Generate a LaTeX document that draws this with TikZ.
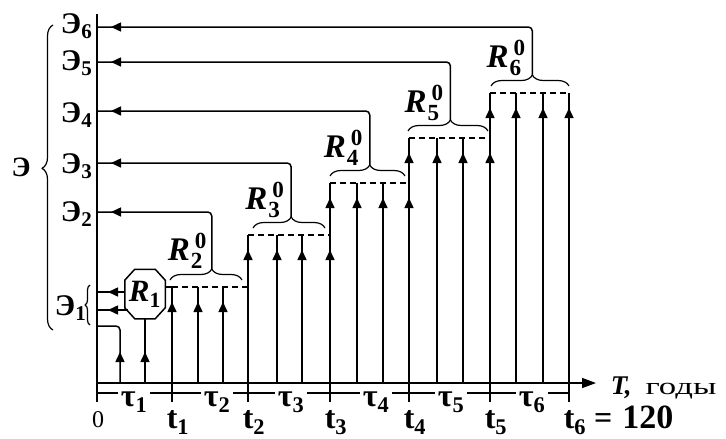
\documentclass[tikz,border=0pt]{standalone}
\usepackage{amsmath}
\usepackage{fontspec}
\setmainfont{Liberation Serif}
\newfontfamily\widefnt[FakeStretch=1.45]{Liberation Serif}
\usetikzlibrary{arrows.meta,calc,decorations.markings,decorations.pathreplacing}

\newcommand\Rlab[1]{$\text{\bfseries\itshape R}^{\kern5pt\text{\bfseries\upshape 0}}_{\kern1pt\text{\bfseries\upshape #1}}$}
\newcommand\Elab[1]{$\text{\bfseries Э}_{\text{\bfseries #1}}$}
\newcommand\tlab[1]{$\text{\bfseries t}_{\text{\bfseries #1}}$}
\newcommand\taulab[1]{$\text{\bfseries τ}_{\text{\bfseries #1}}$}

\tikzset{
  midarr/.style={postaction={decorate},
    decoration={markings, mark=at position #1 with {\arrow{Triangle[length=10pt,width=9pt]}}}},
  curly/.style={decorate, decoration={brace, amplitude=11pt, aspect=#1}},
  curly/.default=0.5,
  dashline/.style={dash pattern=on 6pt off 4pt},
  elab/.style={font=\fontsize{30}{30}\selectfont, inner sep=1pt, anchor=base east},
  rlab/.style={font=\fontsize{33}{33}\selectfont, inner sep=1pt, anchor=south east},
  tlabel/.style={font=\fontsize{32}{32}\selectfont, inner sep=0pt, anchor=base west},
  taulabel/.style={font=\fontsize{32}{32}\selectfont, inner sep=2pt, anchor=base},
}

\begin{document}
\begin{tikzpicture}[x=1pt, y=-1pt, line width=1.5pt, line join=round]
\useasboundingbox (0,0) rectangle (726,439);
% axes
\coordinate (O) at (97,383);
\coordinate (Otop) at (97,14);
\coordinate (Obot) at (97,402);
\coordinate (Tend) at (596,383);
\draw (Otop) -- (Obot);
\draw[-{Triangle[length=14pt,width=10pt]}] (O) -- (Tend);
\node[anchor=base west, inner sep=0pt] (Tlab) at (610,394)
  {\fontsize{27}{27}\selectfont\bfseries\itshape T,\kern14pt\upshape\mdseries\widefnt\fontsize{24}{24}\selectfont годы};

% levels of E
\foreach \k/\y in {2/212,3/163,4/111,5/62,6/27}
  \coordinate (E\k) at (97,\y);
\foreach \k/\y in {2/221,3/173,4/122,5/70,6/33}
  \node[elab] (Elab\k) at (94,\y) {\Elab{\k}};
\node[elab] (Elab1) at (88,315) {\Elab{1}};
\draw[curly=0.53, line width=1.2pt] (53,330) -- (53,25);
\node[font=\fontsize{28}{28}\selectfont\bfseries] (Ebig) at (21,167) {Э};
\draw[curly, decoration={amplitude=5pt}, line width=1.2pt] (90,325) -- (90,285);

% R1
\node[font=\fontsize{31}{31}\selectfont, minimum width=39pt, minimum height=48pt, inner sep=0pt] (R1) at (145,294)
  {$\text{\bfseries\itshape R}_{\text{\bfseries 1}}$};
\draw ($(R1.north west)+(10,0)$) -- ($(R1.north east)+(-10,0)$) -- ($(R1.north east)+(0,11)$)
  -- ($(R1.south east)+(0,-11)$) -- ($(R1.south east)+(-10,0)$) -- ($(R1.south west)+(10,0)$)
  -- ($(R1.south west)+(0,-11)$) -- ($(R1.north west)+(0,11)$) -- cycle;
\coordinate (e1a) at (97,292);
\coordinate (e1b) at (97,310);
\draw[midarr=-11pt] (R1.west |- e1a) -- (e1a);
\draw[midarr=-11pt] ($(R1.west |- e1b)+(3,0)$) -- (e1b);
\coordinate (c1) at (120,383);
\coordinate (c1t) at (120,326);
\draw[midarr=31pt, rounded corners=4pt] (c1) -- (c1t) -- (c1t -| O);
\draw[midarr=31pt] (R1.south |- O) -- (R1.south);

% R2
\coordinate (L2a) at (172,287);
\coordinate (L2b) at (248,287);
\draw (R1.east |- L2a) -- (L2a);
\draw[dashline] (L2a) -- (L2b);
\foreach \x/\ylo in {172/402,198/383,223/383}
  \draw[midarr=-15pt] (\x,\ylo) -- (\x,287);
\coordinate (b2a) at (170,280);
\coordinate (b2b) at (242,280);
\draw[curly=0.58, line width=1.2pt] (b2a) -- (b2b);
\coordinate (tip2) at ($(b2a)!0.58!(b2b)+(0,-11)$);
\draw[midarr=-14pt, rounded corners=4pt] (tip2) -- (tip2 |- E2) -- (E2);
\node[rlab] (R2) at ($(tip2)+(-3,1)$) {\Rlab{2}};

% R3 ... R6
\foreach \k/\xa/\xb/\xc/\xd/\ylo/\ylv/\ba/\bb in {
  3/248/277/302/330/402/235/253/325,
  4/330/357/383/409/235/183/330/405,
  5/409/437/463/490/183/138/408/488,
  6/490/516/543/569/138/93/491/569}{
  \draw[midarr=-15pt] (\xa,\ylo) -- (\xa,\ylv);
  \draw[midarr=-15pt] (\xb,383) -- (\xb,\ylv);
  \draw[midarr=-15pt] (\xc,383) -- (\xc,\ylv);
  \draw[midarr=-15pt] (\xd,402) -- (\xd,\ylv);
  \draw[dashline] (\xa,\ylv) -- (\xd,\ylv);
  \draw[curly=0.53, line width=1.2pt] (\ba,\ylv-7) -- (\bb,\ylv-7);
  \coordinate (tip\k) at ($(\ba,\ylv-7)!0.53!(\bb,\ylv-7)+(0,-11)$);
  \draw[midarr=-14pt, rounded corners=4pt] (tip\k) -- (tip\k |- E\k) -- (E\k);
  \node[rlab] (R\k) at ($(tip\k)+(-5,2)$) {\Rlab{\k}};
}

% time axis labels
\coordinate (U0) at (97,393);
\coordinate (U6) at (569,393);
\foreach \i/\x in {1/134,2/217,3/291,4/376,5/451,6/532}
  \node[taulabel] (tau\i) at (\x,406) {\taulab{\i}};
\draw (U0) -- (tau1.west |- U0) (tau1.east |- U0) -- (tau2.west |- U0)
  (tau2.east |- U0) -- (tau3.west |- U0) (tau3.east |- U0) -- (tau4.west |- U0)
  (tau4.east |- U0) -- (tau5.west |- U0) (tau5.east |- U0) -- (tau6.west |- U0)
  (tau6.east |- U0) -- (U6);
\foreach \i/\x in {1/172,2/248,3/330,4/409,5/490}
  \node[tlabel] (t\i) at (\x-6,428) {\tlab{\i}};
\node[tlabel] (t6) at (563,428) {\tlab{6}\kern8pt\textbf{=}\kern10pt{\fontsize{34}{34}\selectfont\bfseries 120}};
\node[font=\fontsize{24}{24}\selectfont, anchor=base] (zero) at (98,427) {0};
\end{tikzpicture}
\end{document}
